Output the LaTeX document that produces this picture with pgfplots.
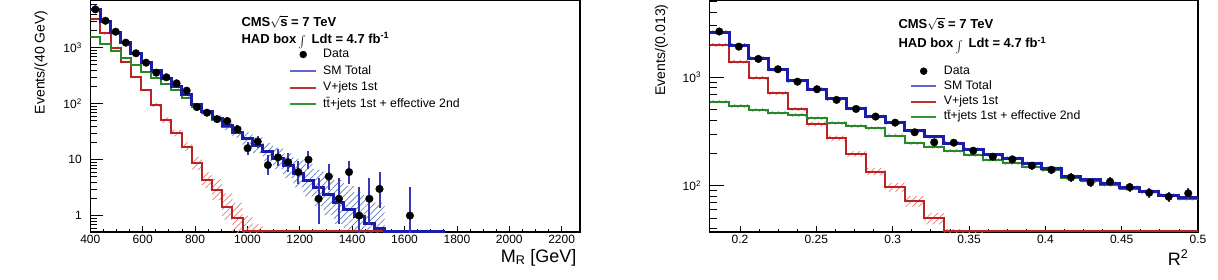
\documentclass[border=0pt]{standalone}
\usepackage{fontspec}
\setmainfont{Liberation Sans}
\usepackage{graphicx}
\usepackage{pgfplots}
\pgfplotsset{compat=1.18}
\usepgfplotslibrary{fillbetween}
\usetikzlibrary{patterns.meta}

\definecolor{smblue}{RGB}{28,28,170}
\definecolor{vred}{RGB}{185,35,35}
\definecolor{ttgreen}{RGB}{40,135,40}
\definecolor{bandblue}{RGB}{95,125,190}
\definecolor{bandred}{RGB}{235,120,120}
\definecolor{errblue}{RGB}{55,55,185}
\definecolor{legblue}{RGB}{100,100,210}
\definecolor{legred}{RGB}{190,50,50}
\definecolor{leggreen}{RGB}{50,150,50}

\newcommand{\lumi}{HAD box\,\raisebox{-3pt}{\scalebox{1.1}[1.2]{$\int$}}\;\,Ldt = 4.7 fb\textsuperscript{-1}}

% ---------------- M_R distribution (bin left edge, content) ----------------
\pgfplotstableread{
x y
400 4835
438.75 2986
477.5 1887
516.25 1224
555 797
593.75 547
632.5 385
671.25 276
710 202
748.75 145
787.5 95.6
826.25 71.3
865 53.9
903.75 40.5
942.5 30.9
981.25 23.5
1020 18.1
1058.75 13.8
1097.5 10.6
1136.25 7.8
1175 5.75
1213.75 4.27
1252.5 3.16
1291.25 2.34
1330 1.74
1368.75 1.29
1407.5 0.95
1446.25 0.71
1485 0.58
1523.75 0.53
1562.5 0.53
1601.25 0.53
1640 0.53
1678.75 0.53
1717.5 0.53
1756.25 0.53
}\mrsm
\pgfplotstableread{
x hi lo
400 5077 4605
438.75 3135 2844
477.5 1981 1797
516.25 1285 1166
555 837 759
593.75 574 521
632.5 416 356
671.25 298 256
710 218 187
748.75 157 134
787.5 103 88.5
826.25 79.9 63.7
865 62 46.9
903.75 48.6 33.8
942.5 38.6 24.7
981.25 30.6 18.1
1020 25 13.1
1058.75 20 9.5
1097.5 16.4 6.8
1136.25 12.9 4.7
1175 10.4 3.2
1213.75 8.3 2.2
1252.5 6.6 1.5
1291.25 5.4 1.02
1330 4.3 0.71
1368.75 3.35 0.5
1407.5 2.6 0.35
1446.25 2.0 0.25
1485 1.7 0.2
1523.75 1.7 0.2
}\mrsmband
\pgfplotstableread{
x y
400 3250
438.75 1800
477.5 1000
516.25 560
555 300
593.75 175
632.5 95
671.25 51
710 30
748.75 17
787.5 8.6
826.25 4.3
865 2.9
903.75 1.45
942.5 0.9
981.25 0.53
1020 0.53
1058.75 0.53
1097.5 0.53
1136.25 0.53
1175 0.53
1213.75 0.53
1252.5 0.53
1291.25 0.53
1330 0.53
1368.75 0.53
1407.5 0.53
1446.25 0.53
1485 0.53
1523.75 0.53
}\mrv
\pgfplotstableread{
x hi lo
400 3410 3090
438.75 1890 1710
477.5 1050 950
516.25 588 532
555 315 285
593.75 184 166
632.5 103 88
671.25 57 45.5
710 34.5 26
748.75 20.4 14.2
787.5 11.2 6.6
826.25 6.0 3.1
865 4.5 1.9
903.75 2.5 0.85
942.5 1.7 0.47
981.25 1.0 0.3
1020 0.7 0.3
1058.75 0.7 0.3
}\mrvband
\pgfplotstableread{
x y
400 1585
438.75 1186
477.5 887
516.25 664
555 497
593.75 372
632.5 290
671.25 225
710 172
748.75 128
787.5 87
826.25 67
865 51
903.75 39
942.5 30
981.25 23
1020 17.8
1058.75 13.6
1097.5 10.5
1136.25 7.7
1175 5.7
1213.75 4.2
1252.5 3.1
1291.25 2.3
1330 1.7
1368.75 1.26
1407.5 0.93
1446.25 0.7
1485 0.57
1523.75 0.53
1756.25 0.53
}\mrtt
\pgfplotstableread{
x y ep em
419.4 4850 70 70
458.1 3030 55 55
496.9 1930 44 44
535.6 1230 35 35
574.4 795 28 28
613.1 540 23 23
651.9 358 19 19
690.6 296 17 17
729.4 231 15 15
768.1 171 13 13
806.9 87 9.3 9.3
845.6 69 8.3 8.3
884.4 53 7.3 7.3
923.1 49 7 7
961.9 35 5.9 5.9
1000.6 16 5.1 3.95
1039.4 21 5.66 4.55
1078.1 8 3.94 2.77
1116.9 11 4.42 3.26
1155.6 9 4.11 2.94
1194.4 6 3.58 2.38
1233.1 10 4.27 3.11
1271.9 2 2.64 1.29
1310.6 5 3.38 2.16
1349.4 2 2.64 1.29
1388.1 6 3.58 2.38
1426.9 1 2.3 0.83
1465.6 2 2.64 1.29
1504.4 3 2.92 1.63
1620.6 1 2.3 0.83
}\mrdata

% ---------------- R^2 distribution ----------------
\pgfplotstableread{
x y hi lo
0.18 2600 2704 2500
0.1928 1980 2059 1904
0.2056 1500 1560 1442
0.2184 1170 1217 1125
0.2312 925 962 889
0.244 775 806 745
0.2568 630 655 606
0.2696 518 539 498
0.2824 434 451 417
0.2952 381 396 366
0.308 320 333 308
0.3208 283 294 272
0.3336 246 256 237
0.3464 217 226 209
0.3592 192 200 185
0.372 179 186 172
0.3848 161 167 155
0.3976 145 151 139
0.4104 121 126 116
0.4232 113 118 109
0.436 105 109 101
0.4488 96 100 92
0.4616 88 92 85
0.4744 82 85 79
0.4872 77 80 74
0.5 77 80 74
}\rsqsm
\pgfplotstableread{
x y
0.18 1990
0.1928 1393
0.2056 991
0.2184 711
0.2312 510
0.244 371
0.2568 274
0.2696 196
0.2824 135
0.2952 97
0.308 72
0.3208 50
0.3336 38.5
0.5 38.5
}\rsqv
\pgfplotstableread{
x hi lo
0.18 2070 1910
0.1928 1449 1337
0.2056 1031 951
0.2184 739 683
0.2312 530 490
0.244 390 352
0.2568 290 258
0.2696 208 184
0.2824 145 125
0.2952 106 88
0.308 80 64
0.3208 56 44
0.3336 40 30
0.3464 38.5 25
0.3592 38.5 25
}\rsqvband
\pgfplotstableread{
x y hi lo
0.18 596 620 573
0.1928 543 565 522
0.2056 499 519 480
0.2184 471 490 453
0.2312 448 466 431
0.244 419 436 403
0.2568 381 396 366
0.2696 356 370 342
0.2824 339 353 326
0.2952 290 302 279
0.308 246 256 237
0.3208 229 238 220
0.3336 210 218 202
0.3464 192 200 185
0.3592 173 180 166
0.372 161 167 155
0.3848 150 156 144
0.3976 139 145 134
0.4104 117 122 113
0.4232 110 114 106
0.436 102 106 98
0.4488 94 98 90
0.4616 87 90 84
0.4744 81 84 78
0.4872 76 79 73
0.5 76 79 73
}\rsqtt
\pgfplotstableread{
x y e
0.1864 2640 51
0.1992 1915 44
0.212 1475 38
0.2248 1185 34
0.2376 910 30
0.2504 775 28
0.2632 618 25
0.276 510 23
0.2888 434 21
0.3016 381 20
0.3144 311 18
0.3272 251 16
0.34 249 16
0.3528 210 14.5
0.3656 185 13.6
0.3784 175 13.2
0.3912 153 12.4
0.404 140 11.8
0.4168 119 10.9
0.4296 107 10.3
0.4424 109 10.4
0.4552 97 9.8
0.468 86 9.3
0.4808 79 8.9
0.4936 85 9.2
}\rsqdata

\pgfplotsset{
  hist/.style={const plot, mark=none, forget plot},
  band/.style={const plot, draw=none, mark=none, forget plot},
  hatch/.style={pattern={Lines[angle=45,distance=4.5pt,line width=0.7pt]}, pattern color=#1, draw=none, forget plot},
  dotlegend/.style={legend image code/.code={\draw[##1] plot coordinates {(#1,0pt)};}},
}

\begin{document}
\begin{tikzpicture}

% ---------------- left: M_R ----------------
\begin{axis}[
  scale only axis, anchor=south west,
  at={(90.3pt,47pt)}, width=489.7pt, height=231.5pt,
  ymode=log,
  xmin=400, xmax=2270, ymin=0.51, ymax=6970,
  axis line style={line width=1.2pt},
  tick align=inside, xtick pos=bottom, ytick pos=left,
  major tick length=13pt, minor tick length=7pt,
  x tick style={black, line width=0.8pt, /pgfplots/major tick length=6pt, /pgfplots/minor tick length=3pt},
  y tick style={black, line width=0.8pt},
  xtick={400,600,...,2200}, minor x tick num=3,
  ytick={1,10,100,1000},
  yticklabels={1,10,10\textsuperscript{2},10\textsuperscript{3}},
  minor ytick={0.6,0.7,0.8,0.9,2,3,4,5,6,7,8,9,20,30,40,50,60,70,80,90,200,300,400,500,600,700,800,900,2000,3000,4000,5000,6000},
  scaled x ticks=false,
  xticklabel style={font=\fontsize{12}{14}\selectfont, /pgf/number format/assume math mode=true, /pgf/number format/1000 sep={}},
  yticklabel style={font=\fontsize{12}{14}\selectfont, xshift=-5pt},
  legend cell align=left,
  legend image code/.code={\draw[#1] (0pt,0pt) -- (26pt,0pt);},
  legend style={draw=none, fill=none, inner sep=0pt, column sep=6pt,
    font=\fontsize{12.3}{14}\selectfont,
    nodes={inner sep=0pt, text height=9pt, text depth=3pt},
    at={(0.4058,0.7935)}, anchor=north west, row sep=4.5pt},
]
\addplot[band, name path=sbh] table[x=x, y=hi] {\mrsmband};
\addplot[band, name path=sbl] table[x=x, y=lo] {\mrsmband};
\addplot[hatch=bandblue] fill between[of=sbh and sbl];
\addplot[band, name path=vbh] table[x=x, y=hi] {\mrvband};
\addplot[band, name path=vbl] table[x=x, y=lo] {\mrvband};
\addplot[hatch=bandred] fill between[of=vbh and vbl];

\addplot[hist, vred, line width=2pt] table[x=x, y=y] {\mrv};
\addplot[hist, ttgreen, line width=2pt] table[x=x, y=y] {\mrtt};
\addplot[hist, smblue, line width=3pt] table[x=x, y=y] {\mrsm};
\addplot[only marks, mark=*, mark size=3.8pt, black, forget plot,
    error bars/.cd, y dir=both, y explicit, error mark=none,
    error bar style={line width=2pt, errblue}]
  table[x=x, y=y, y error plus=ep, y error minus=em] {\mrdata};

\addlegendimage{black, only marks, mark=*, mark size=3.5pt, dotlegend=13pt}
\addlegendentry{Data}
\addlegendimage{legblue, line width=2pt}
\addlegendentry{SM Total}
\addlegendimage{legred, line width=2pt}
\addlegendentry{V+jets 1st}
\addlegendimage{leggreen, line width=2pt}
\addlegendentry{t\={t}+jets 1st + effective 2nd}

\node[anchor=base west, font=\fontsize{13}{15}\selectfont\bfseries] at (axis description cs:0.3016,0.8898) {CMS$\sqrt{\mbox{s}}$ = 7 TeV};
\node[anchor=base west, font=\fontsize{13}{15}\selectfont\bfseries] at (axis description cs:0.3016,0.8164) {\lumi};
\end{axis}

% ---------------- right: R^2 ----------------
\begin{axis}[
  scale only axis, anchor=south west,
  at={(709.5pt,47pt)}, width=488.5pt, height=231.5pt,
  ymode=log,
  xmin=0.18, xmax=0.5, ymin=37.4, ymax=5100,
  axis line style={line width=1.2pt},
  tick align=inside, xtick pos=bottom, ytick pos=left,
  major tick length=14pt, minor tick length=7pt,
  x tick style={black, line width=0.8pt, /pgfplots/major tick length=6pt, /pgfplots/minor tick length=3pt},
  y tick style={black, line width=0.8pt},
  xtick={0.2,0.25,...,0.5}, minor x tick num=3,
  ytick={100,1000},
  yticklabels={10\textsuperscript{2},10\textsuperscript{3}},
  minor ytick={40,50,60,70,80,90,200,300,400,500,600,700,800,900,2000,3000,4000,5000},
  xticklabel style={font=\fontsize{12}{14}\selectfont, /pgf/number format/assume math mode=true, /pgf/number format/fixed, /pgf/number format/precision=2},
  yticklabel style={font=\fontsize{12}{14}\selectfont, xshift=-5pt},
  legend cell align=left,
  legend image code/.code={\draw[#1] (0pt,0pt) -- (25pt,0pt);},
  legend style={draw=none, fill=none, inner sep=0pt, column sep=6.7pt,
    font=\fontsize{12.3}{14}\selectfont,
    nodes={inner sep=0pt, text height=9pt, text depth=3pt},
    at={(0.4104,0.7214)}, anchor=north west, row sep=3.2pt},
]
\addplot[band, name path=rbh] table[x=x, y=hi] {\rsqsm};
\addplot[band, name path=rbl] table[x=x, y=lo] {\rsqsm};
\addplot[hatch=bandblue] fill between[of=rbh and rbl];
\addplot[band, name path=rgh] table[x=x, y=hi] {\rsqtt};
\addplot[band, name path=rgl] table[x=x, y=lo] {\rsqtt};
\addplot[hatch=leggreen!60] fill between[of=rgh and rgl];
\addplot[band, name path=rvh] table[x=x, y=hi] {\rsqvband};
\addplot[band, name path=rvl] table[x=x, y=lo] {\rsqvband};
\addplot[hatch=bandred] fill between[of=rvh and rvl];

\addplot[hist, vred, line width=2pt] table[x=x, y=y] {\rsqv};
\addplot[hist, ttgreen, line width=2pt] table[x=x, y=y] {\rsqtt};
\addplot[hist, smblue, line width=3pt] table[x=x, y=y] {\rsqsm};
\addplot[only marks, mark=*, mark size=3.8pt, black, forget plot,
    error bars/.cd, y dir=both, y explicit, error mark=none,
    error bar style={line width=2pt, errblue}]
  table[x=x, y=y, y error plus=e, y error minus=e] {\rsqdata};

\addlegendimage{black, only marks, mark=*, mark size=3.5pt, dotlegend=12.5pt}
\addlegendentry{Data}
\addlegendimage{legblue, line width=2pt}
\addlegendentry{SM Total}
\addlegendimage{legred, line width=2pt}
\addlegendentry{V+jets 1st}
\addlegendimage{leggreen, line width=2pt}
\addlegendentry{t\={t}+jets 1st + effective 2nd}

\node[anchor=base west, font=\fontsize{13}{15}\selectfont\bfseries] at (axis description cs:0.3797,0.8812) {CMS$\sqrt{\mbox{s}}$ = 7 TeV};
\node[anchor=base west, font=\fontsize{13}{15}\selectfont\bfseries] at (axis description cs:0.3797,0.7974) {\lumi};
\end{axis}

% axis titles
\node[anchor=base east, rotate=90, font=\fontsize{14}{16}\selectfont] at (44.5pt,272pt) {Events/(40 GeV)};
\node[anchor=base east, rotate=90, font=\fontsize{14}{16}\selectfont] at (665pt,278pt) {Events/(0.013)};
\node[anchor=base east, font=\fontsize{18}{20}\selectfont] at (580pt,17pt) {M\textsubscript{R} [GeV]};
\node[anchor=base east, font=\fontsize{18}{20}\selectfont] at (1192pt,14pt) {R\textsuperscript{2}};

% fix the page to the full canvas
\pgfresetboundingbox
\useasboundingbox (0pt,0pt) rectangle (1218pt,279pt);
\end{tikzpicture}
\end{document}
